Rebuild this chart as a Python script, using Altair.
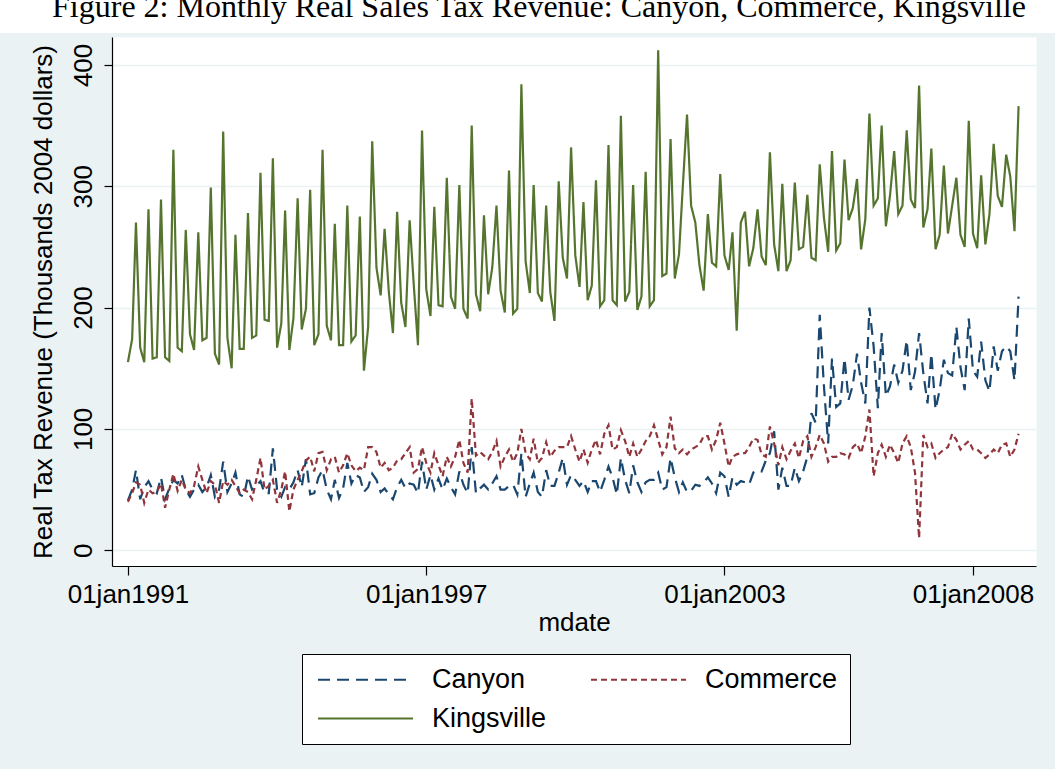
import altair as alt
import pandas as pd

# Monthly real sales tax revenue, thousands of 2004 dollars, Jan 1991 onward
canyon = [
    41, 50, 66, 42, 52, 57, 50, 47, 60, 42, 51, 58, 55, 62, 50, 44, 50, 54, 48, 52,
    62, 44, 50, 73, 48, 55, 64, 46, 44, 61, 50, 53, 57, 47, 47, 84, 50, 44, 52, 50,
    56, 66, 52, 75, 46, 47, 60, 66, 50, 42,
    58, 43, 51, 72, 55, 62, 60, 48, 52, 63, 58, 48, 51, 46, 42, 52, 58, 51, 55, 54,
    47, 73, 50, 62, 50, 59, 50, 59, 52, 46, 65, 54, 47, 85, 47, 51, 54, 50, 55, 61,
    50, 50, 53, 54, 46, 80, 44, 55, 64, 48, 44, 66, 53, 53,
    64, 76, 54, 62, 58, 53, 57, 48, 57, 57, 48, 58, 69, 60, 46, 76, 58, 47, 70, 56,
    48, 56, 58, 58, 64, 50, 52, 76, 60, 48, 56, 48, 49, 54, 53, 56, 60, 55, 47, 64,
    61, 44, 60, 54, 57, 56, 54, 64, 66, 65, 74, 80, 98,
    50, 68, 53, 53, 68, 57, 65, 77, 113, 105, 194, 135, 88, 158, 118, 121, 158, 124, 136, 162,
    138, 121, 200, 168, 117, 179, 127, 135, 153, 138, 148, 173, 132, 147, 179, 146, 121, 162, 116, 132,
    157, 146, 144, 184, 151, 132, 191, 148, 143, 172, 140, 131, 168, 148, 164, 168, 164, 140, 209,
]
commerce = [
    40, 47, 56, 54, 39, 50, 47, 48, 55, 35, 50, 63, 49, 58, 50, 47, 53, 69, 58, 47,
    57, 54, 39, 57, 54, 58, 53, 47, 50, 48, 42, 58, 76, 50, 53, 58, 39, 50, 65, 32,
    50, 58, 65, 74, 77, 65, 80, 81, 66, 75, 77, 64, 70,
    80, 70, 65, 68, 66, 85, 85, 81, 68, 72, 66, 68, 74, 75, 80, 85, 64, 67, 85, 72,
    64, 80, 70, 61, 77, 69, 77, 91, 72, 64, 125, 78, 81, 78, 75, 81, 90, 69, 77, 83,
    73, 80, 100, 80, 75, 92, 72, 76, 89, 77, 82, 85, 85,
    85, 94, 83, 73, 83, 72, 83, 91, 79, 96, 103, 83, 85, 99, 90, 77, 88, 77, 83, 90,
    94, 103, 91, 79, 85, 110, 84, 80, 83, 79, 83, 85, 87, 94, 94, 83, 91, 105, 88, 69,
    77, 79, 80, 80, 85, 92, 91, 79, 77, 102, 88, 70, 85,
    75, 82, 88, 76, 90, 94, 77, 85, 95, 88, 73, 77, 77, 80, 79, 76, 85, 88, 80, 94,
    116, 61, 80, 87, 77, 87, 80, 72, 88, 94, 85, 64, 10, 95, 85, 88, 76, 80, 83, 85,
    96, 91, 83, 87, 90, 83, 83, 80, 76, 79, 83, 80, 87, 88, 77, 83, 96,
]
kingsville = [
    155, 174, 270, 167, 155, 281, 158, 159, 289, 159, 156, 330, 167, 164, 264, 178, 165, 262, 173, 175,
    299, 162, 153, 345, 175, 150, 260, 166, 166, 278, 175, 177, 311, 190, 189, 323, 167, 187, 280, 165,
    191, 290, 182, 199, 297, 169, 178, 330, 185, 173, 269, 169, 169,
    284, 172, 177, 275, 148, 184, 337, 233, 210, 265, 213, 179, 279, 204, 184, 272, 219, 169, 346, 215,
    193, 283, 202, 201, 307, 209, 199, 301, 199, 191, 350, 211, 197, 276, 211, 233, 284, 214, 196, 313,
    195, 199, 384, 238, 212, 301, 212, 205, 284, 213, 189, 304, 241,
    224, 332, 243, 217, 287, 206, 218, 305, 201, 206, 334, 206, 202, 358, 205, 213, 301, 198, 209, 312,
    201, 206, 412, 226, 228, 339, 224, 244, 300, 359, 284, 270, 235, 214, 277, 237, 234, 310, 243, 231,
    262, 181, 270, 279, 234, 249, 281, 242, 235, 328, 252, 230, 302,
    230, 239, 303, 248, 250, 293, 241, 239, 318, 274, 246, 329, 247, 253, 322, 272, 282, 306, 248, 273,
    360, 284, 290, 350, 267, 292, 329, 277, 284, 346, 289, 282, 383, 266, 281, 331, 248, 260, 317, 261,
    284, 307, 260, 250, 354, 261, 249, 309, 252, 277, 335, 292, 283, 326, 308, 263, 366,
]

series_names = ["Canyon", "Commerce", "Kingsville"]
series_colors = ["#1a476f", "#90353b", "#55752f"]
series_dashes = [[12, 7], [6, 4], [1, 0]]
y_ticks = [0, 100, 200, 300, 400]
x_tick_years = [1991, 1997, 2003, 2008]
fig_title = "Figure 2: Monthly Real Sales Tax Revenue: Canyon, Commerce, Kingsville"

months = pd.date_range("1991-01-01", periods=len(kingsville), freq="MS")
rows = []
for name, vals in zip(series_names, [canyon, commerce, kingsville]):
    for d, v in zip(months, vals):
        rows.append({"mdate": d.strftime("%Y-%m-%d"), "series": name, "value": v})
df = pd.DataFrame(rows)

FONT = "Liberation Sans"
BG = "#EAF2F3"

x_enc = alt.X(
    "mdate:T",
    scale=alt.Scale(
        type="utc",
        domain=[alt.DateTime(year=1990, month=9, date=6, utc=True),
                alt.DateTime(year=2009, month=4, date=8, utc=True)],
    ),
    axis=alt.Axis(
        values=[alt.DateTime(year=y, month=1, date=1, utc=True) for y in x_tick_years],
        labelExpr="'01jan' + utcyear(datum.value)",
        title="mdate",
        grid=False,
        tickSize=9,
        labelPadding=6,
        titlePadding=2,
    ),
)
y_enc = alt.Y(
    "value:Q",
    scale=alt.Scale(domain=[-13, 423], nice=False, zero=False),
    axis=alt.Axis(
        values=y_ticks,
        title="Real Tax Revenue (Thousands 2004 dollars)",
        grid=True,
        gridColor=BG,
        gridWidth=1.5,
        tickSize=8,
        labelAngle=270,
        labelAlign="center",
        labelBaseline="bottom",
        labelPadding=8,
        titlePadding=14,
    ),
)

lines = alt.Chart(df).mark_line(strokeWidth=2.2, clip=True).encode(
    x=x_enc,
    y=y_enc,
    color=alt.Color(
        "series:N",
        scale=alt.Scale(domain=series_names, range=series_colors),
        legend=alt.Legend(
            title=None,
            orient="none",
            legendX=190,
            legendY=617,
            direction="horizontal",
            columns=2,
            columnPadding=40,
            rowPadding=11,
            padding=12,
            fillColor="white",
            strokeColor="black",
            # long horizontal key line drawn from the symbol's left edge
            symbolType="M-1,0H9",
            symbolSize=361,
            symbolStrokeWidth=2,
            symbolFillColor="transparent",
            labelFontSize=27,
            labelFont=FONT,
            labelColor="black",
            labelOffset=91,
            zindex=1,
        ),
    ),
    strokeDash=alt.StrokeDash(
        "series:N",
        scale=alt.Scale(domain=series_names, range=series_dashes),
        legend=None,
    ),
    detail="series:N",
)

# white strip above the graph region, carrying the figure caption
strip = alt.Chart(alt.Data(values=[{}])).mark_rect(color="white").encode(
    x=alt.value(-112), x2=alt.value(943), y=alt.value(-37), y2=alt.value(-4)
)
caption = alt.Chart(alt.Data(values=[{"t": fig_title}])).mark_text(
    font="Liberation Serif", fontSize=32, color="black", align="center", baseline="alphabetic"
).encode(text="t:N", x=alt.value(427), y=alt.value(-20))

chart = alt.layer(strip, caption, lines).properties(
    width=924,
    height=529,
    autosize=alt.AutoSizeParams(type="none"),
    padding={"left": 112, "top": 37, "right": 19, "bottom": 203},
    background=BG,
).configure_view(
    fill="white", stroke="transparent"
).configure_axis(
    labelFont=FONT, titleFont=FONT, labelFontSize=26, titleFontSize=26,
    titleFontWeight="normal", labelColor="black", titleColor="black",
    domainColor="black", tickColor="black", domainWidth=1.2, tickWidth=1.2,
)

chart.save("out.html", embed_options={"renderer": "svg", "actions": False})
